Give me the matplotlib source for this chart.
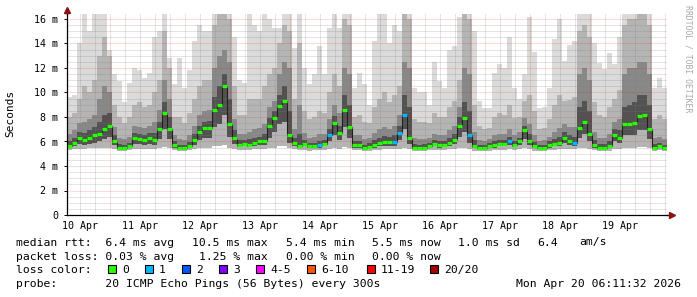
import matplotlib
matplotlib.use('Agg')
import matplotlib.pyplot as plt
import numpy as np

plt.rcParams['font.family'] = 'DejaVu Sans Mono'

' ____________ data: 2 hour bins, time in hours since 10 Apr 00:00 __________ '

t_start = 6.8
bin_h = 2.0

# median rtt per bin (ms)
median = [5.67, 5.9, 6.3, 6.1, 6.3, 6.5, 6.6, 7.0, 7.3, 6.0,
          5.5, 5.5, 5.6, 6.3, 6.2, 6.15, 6.25, 6.1, 7.0, 8.3,
          7.0, 5.7, 5.45, 5.45, 5.65, 6.1, 6.8, 7.1, 7.1, 8.6,
          9.0, 10.5, 7.4, 6.3, 5.75, 5.8, 5.75, 5.9, 6.0, 6.0,
          7.3, 7.9, 8.9, 9.3, 6.5, 5.9, 5.65, 5.8, 5.6, 5.65,
          5.7, 5.8, 6.5, 7.5, 6.7, 8.6, 7.2, 5.7, 5.7, 5.45,
          5.55, 5.7, 5.85, 5.95, 5.95, 5.95, 6.7, 8.2, 6.3, 5.5,
          5.45, 5.5, 5.65, 5.8, 5.7, 5.75, 5.9, 6.1, 7.3, 7.9,
          6.5, 5.65, 5.45, 5.45, 5.6, 5.7, 5.8, 5.8, 6.0, 5.75,
          6.0, 6.9, 6.0, 5.6, 5.45, 5.5, 5.7, 5.8, 5.9, 6.3,
          6.0, 5.9, 7.1, 7.6, 6.6, 5.7, 5.45, 5.45, 5.6, 6.5,
          6.3, 7.4, 7.4, 7.5, 8.1, 8.15, 7.0, 5.5, 5.6, 5.45]

# smoke: fastest ping, quantiles of the 20 pings and slowest ping (ms)
smoke_lo = [5.3, 5.35, 5.4, 5.4, 5.45, 5.45, 5.5, 5.5, 5.5, 5.35,
            5.25, 5.25, 5.3, 5.4, 5.4, 5.4, 5.4, 5.35, 5.45, 5.55,
            5.45, 5.3, 5.2, 5.2, 5.3, 5.35, 5.45, 5.5, 5.5, 5.6,
            5.6, 5.7, 5.5, 5.4, 5.3, 5.3, 5.3, 5.35, 5.35, 5.35,
            5.45, 5.5, 5.6, 5.6, 5.45, 5.35, 5.3, 5.3, 5.25, 5.3,
            5.3, 5.3, 5.4, 5.5, 5.4, 5.55, 5.45, 5.3, 5.3, 5.2,
            5.25, 5.3, 5.3, 5.35, 5.35, 5.35, 5.4, 5.5, 5.35, 5.25,
            5.2, 5.25, 5.3, 5.3, 5.3, 5.3, 5.35, 5.35, 5.45, 5.5,
            5.4, 5.25, 5.2, 5.2, 5.25, 5.3, 5.3, 5.3, 5.35, 5.3,
            5.35, 5.45, 5.35, 5.25, 5.2, 5.25, 5.3, 5.3, 5.35, 5.4,
            5.35, 5.35, 5.45, 5.5, 5.4, 5.3, 5.2, 5.2, 5.25, 5.4,
            5.4, 5.5, 5.5, 5.5, 5.55, 5.55, 5.45, 5.25, 5.3, 5.2]

smoke_q25 = [5.5, 5.6, 5.8, 5.7, 5.8, 5.9, 6.0, 6.2, 6.4, 5.7,
             5.4, 5.4, 5.45, 5.8, 5.8, 5.75, 5.8, 5.7, 6.2, 7.0,
             6.2, 5.5, 5.35, 5.35, 5.5, 5.7, 6.1, 6.3, 6.3, 7.2,
             7.4, 8.2, 6.4, 5.8, 5.55, 5.6, 5.55, 5.65, 5.7, 5.7,
             6.3, 6.8, 7.4, 7.6, 5.9, 5.65, 5.5, 5.6, 5.45, 5.5,
             5.5, 5.6, 6.0, 6.5, 6.1, 7.2, 6.3, 5.5, 5.5, 5.35,
             5.4, 5.5, 5.6, 5.65, 5.65, 5.65, 6.1, 7.0, 5.8, 5.4,
             5.35, 5.4, 5.5, 5.6, 5.5, 5.55, 5.65, 5.8, 6.4, 6.8,
             5.9, 5.5, 5.35, 5.35, 5.45, 5.5, 5.6, 5.6, 5.7, 5.55,
             5.7, 6.2, 5.7, 5.45, 5.35, 5.4, 5.5, 5.6, 5.65, 5.9,
             5.7, 5.6, 6.3, 6.6, 6.0, 5.5, 5.35, 5.35, 5.45, 6.0,
             5.9, 6.5, 6.5, 6.5, 6.9, 6.9, 6.2, 5.4, 5.45, 5.35]

smoke_q55 = [6.0, 6.25, 6.8, 6.7, 6.9, 7.2, 7.6, 8.2, 8.3, 6.5,
             5.8, 5.75, 5.9, 6.7, 6.6, 6.55, 6.7, 6.7, 7.6, 9.2,
             8.0, 6.0, 5.75, 5.7, 5.95, 6.6, 7.3, 7.6, 7.7, 9.6,
             10.5, 11.5, 9.5, 6.9, 6.1, 6.1, 6.2, 6.3, 6.4, 6.6,
             7.9, 8.5, 9.8, 10.5, 8.5, 6.3, 6.6, 6.1, 5.85, 5.9,
             6.0, 6.1, 7.0, 8.1, 7.3, 9.8, 9.0, 6.0, 6.0, 5.75,
             5.85, 6.1, 6.3, 6.45, 6.4, 6.5, 7.3, 9.8, 8.8, 5.8,
             5.75, 5.8, 5.9, 6.1, 6.0, 6.05, 6.3, 6.6, 8.0, 9.2,
             8.5, 6.1, 5.75, 5.7, 5.85, 6.0, 6.1, 6.1, 6.4, 6.0,
             6.3, 7.3, 6.6, 5.95, 5.7, 5.75, 6.0, 6.2, 6.4, 6.8,
             6.5, 6.4, 8.8, 9.3, 8.5, 6.1, 5.8, 5.8, 6.0, 7.0,
             6.9, 8.8, 9.0, 9.2, 9.8, 9.8, 9.0, 5.8, 5.9, 5.75]

smoke_q65 = [6.6, 6.9, 7.5, 7.6, 7.8, 8.2, 9.5, 10.5, 10.0, 7.2,
             6.3, 6.2, 6.4, 7.3, 7.2, 7.1, 7.3, 7.6, 8.6, 11.0,
             9.5, 6.5, 6.2, 6.1, 6.5, 7.3, 8.2, 8.5, 8.6, 12.0,
             13.0, 13.5, 12.5, 7.8, 6.6, 6.6, 6.8, 7.0, 7.1, 7.4,
             8.8, 9.3, 11.5, 12.5, 12.0, 7.0, 9.0, 6.7, 6.3, 6.4,
             6.6, 6.6, 7.8, 9.0, 8.3, 12.0, 11.5, 6.5, 6.5, 6.2,
             6.3, 6.7, 7.0, 7.2, 7.0, 7.3, 8.2, 12.5, 12.0, 6.3,
             6.2, 6.2, 6.3, 6.6, 6.5, 6.5, 6.9, 7.3, 8.8, 12.0,
             11.5, 6.8, 6.1, 6.0, 6.2, 6.5, 6.6, 6.6, 7.0, 6.5,
             6.8, 7.9, 7.4, 6.5, 6.0, 6.1, 6.4, 6.8, 7.1, 7.4,
             7.2, 7.2, 11.5, 12.0, 11.0, 6.8, 6.3, 6.3, 6.6, 7.6,
             7.8, 11.5, 12.0, 12.0, 12.5, 12.5, 11.5, 6.3, 6.4, 6.2]

smoke_q85 = [8.0, 8.3, 9.5, 10.5, 10.0, 11.0, 13.0, 14.5, 13.0, 9.0,
             8.0, 7.5, 8.0, 9.0, 9.2, 8.8, 9.0, 10.0, 11.0, 15.0,
             12.0, 8.0, 8.0, 7.5, 8.3, 9.5, 10.5, 11.0, 11.0, 15.5,
             16.4, 16.4, 16.0, 10.5, 8.2, 8.2, 9.5, 9.5, 9.5, 10.5,
             11.5, 12.0, 14.0, 15.5, 15.0, 9.5, 14.0, 8.5, 7.8, 8.0,
             8.5, 8.3, 10.0, 11.5, 10.5, 16.0, 15.5, 8.0, 8.2, 7.6,
             7.5, 8.8, 9.5, 10.0, 9.2, 9.8, 10.5, 16.4, 16.0, 7.8,
             7.6, 7.6, 7.5, 8.3, 8.0, 8.0, 8.8, 9.3, 11.0, 16.4,
             16.0, 9.0, 7.3, 7.0, 7.1, 8.0, 8.3, 8.2, 9.0, 7.9,
             8.0, 9.3, 9.8, 8.5, 7.0, 7.1, 7.8, 9.0, 9.8, 9.3,
             9.4, 9.6, 15.0, 15.5, 14.5, 9.2, 8.2, 8.0, 8.8, 9.5,
             10.2, 15.5, 16.0, 16.0, 16.4, 16.4, 15.5, 7.8, 8.2, 7.8]

smoke_max = [9.6, 9.8, 14.0, 16.4, 15.0, 16.4, 16.4, 16.4, 13.5, 11.5,
             10.9, 9.2, 10.8, 12.0, 11.8, 11.2, 11.6, 14.5, 15.0, 16.4,
             12.8, 10.7, 12.8, 10.4, 11.8, 14.2, 15.5, 15.0, 15.0, 16.4,
             16.4, 16.4, 16.4, 14.5, 11.0, 10.8, 16.4, 15.5, 15.0, 16.4,
             16.0, 15.3, 15.3, 16.4, 16.4, 13.6, 16.4, 12.0, 10.7, 11.5,
             13.8, 11.5, 15.3, 16.4, 15.3, 16.4, 16.4, 10.4, 11.6, 10.7,
             9.0, 14.2, 16.4, 16.4, 14.0, 15.5, 15.0, 16.4, 16.4, 10.4,
             10.0, 10.0, 9.0, 12.5, 10.9, 10.4, 13.5, 13.8, 16.2, 16.4,
             16.4, 15.0, 9.3, 8.7, 8.7, 11.6, 12.3, 12.0, 14.5, 10.4,
             9.5, 11.5, 16.2, 13.3, 8.7, 8.8, 10.4, 14.4, 16.0, 12.6,
             13.9, 14.2, 16.4, 16.4, 16.4, 14.0, 12.4, 11.9, 13.2, 12.3,
             14.5, 16.4, 16.4, 16.4, 16.4, 16.4, 16.4, 10.4, 11.2, 10.4]

# lost pings (of 20) per bin
loss = [0] * 120
for i in [50, 52, 65, 66, 67, 80, 88, 101]:
    loss[i] = 1

loss_labels = ['0', '1', '2', '3', '4-5', '6-10', '11-19', '20/20']
loss_colors = ['#26ff00', '#00b8ff', '#0059ff', '#7e00ff',
               '#ff00ff', '#ff5500', '#ff0000', '#a10000']
loss_bounds = [0, 1, 2, 3, 5, 10, 19, 20]

day_labels = ['10 Apr', '11 Apr', '12 Apr', '13 Apr', '14 Apr',
              '15 Apr', '16 Apr', '17 Apr', '18 Apr', '19 Apr']
y_ticks = [0, 2, 4, 6, 8, 10, 12, 14, 16]
y_ticklabels = ['0', '2 m', '4 m', '6 m', '8 m', '10 m', '12 m', '14 m', '16 m']


def loss_color(n):
    for b, c in zip(loss_bounds, loss_colors):
        if n <= b:
            return c
    return loss_colors[-1]


' ____________ figure _______________________________________________________ '

W, H = 697, 297
fig = plt.figure(figsize=(W / 100, H / 100), dpi=100)
fig.patch.set_facecolor('white')

ax_l, ax_r, ax_b, ax_t = 67, 667, 215, 14.1
ax = fig.add_axes([ax_l / W, 1 - ax_b / H, (ax_r - ax_l) / W, (ax_b - ax_t) / H])

t_end = t_start + bin_h * len(median)
edges = t_start + bin_h * np.arange(len(median) + 1)

ax.set_xlim(t_start, t_end)
ax.set_ylim(0, 16.4)

# smoke, lightest outside, darkest round the median
ax.stairs(smoke_max, edges, baseline=smoke_lo, fill=True, color='#dadada', lw=0, zorder=1)
ax.stairs(smoke_q85, edges, baseline=smoke_lo, fill=True, color='#b4b4b4', lw=0, zorder=1.1)
ax.stairs(smoke_q65, edges, baseline=smoke_q25, fill=True, color='#888888', lw=0, zorder=1.2)
ax.stairs(smoke_q55, edges, baseline=smoke_q25, fill=True, color='#525252', lw=0, zorder=1.3)

# grid, drawn above the smoke like rrdtool
dots = (0, (1, 1))
for v in np.arange(0.5, 16.4, 0.5):
    if v % 2 == 0:
        ax.axhline(v, color='#ff0000', alpha=0.27, lw=0.72, ls=dots, zorder=2)
    else:
        ax.axhline(v, color='#808080', alpha=0.42, lw=0.72, ls=dots, zorder=2)
for h in np.arange(6, t_end, 6):
    if h <= t_start:
        continue
    if h % 24 == 0:
        ax.axvline(h, color='#ff0000', alpha=0.27, lw=0.72, ls=dots, zorder=2)
    else:
        ax.axvline(h, color='#808080', alpha=0.42, lw=0.72, ls=dots, zorder=2)

# median line + loss coloured steps
ax.stairs(median, edges, baseline=None, color='#202020', lw=0.8, zorder=3)
ax.hlines(median, edges[:-1], edges[1:], colors=[loss_color(n) for n in loss],
          lw=2.3, zorder=4, capstyle='butt')

# axes look
for s in ['top', 'right']:
    ax.spines[s].set_visible(False)
for s in ['left', 'bottom']:
    ax.spines[s].set_color('black')
    ax.spines[s].set_linewidth(0.9)
    ax.spines[s].set_zorder(5)

ax.set_yticks(y_ticks)
ax.set_yticklabels(y_ticklabels)
ax.set_xticks([12 + 24 * k for k in range(len(day_labels))])
ax.set_xticklabels(day_labels)
ax.tick_params(axis='y', length=2.5, width=0.7, pad=4, labelsize=7.2, direction='out')
ax.tick_params(axis='x', length=0, pad=4, labelsize=7.2)

# axis arrows
ax.plot([1, 1.009], [0, 0], color='black', lw=0.9, transform=ax.transAxes, clip_on=False, zorder=5)
ax.plot([1.009], [0], marker='>', ms=4, color='#8b1010', transform=ax.transAxes, clip_on=False, zorder=6)
ax.plot([0, 0], [1, 1.015], color='black', lw=0.9, transform=ax.transAxes, clip_on=False, zorder=5)
ax.plot([0], [1.02], marker='^', ms=4, color='#8b1010', transform=ax.transAxes, clip_on=False, zorder=6)

fig.text(10.5 / W, 1 - 113 / H, 'Seconds', rotation=90, ha='center', va='center', fontsize=8)
fig.text(688 / W, 1 - 5 / H, 'RRDTOOL / TOBI OETIKER', rotation=270, ha='center', va='top',
         fontsize=5.9, color='#a8a8a8')

' ____________ legend text __________________________________________________ '

fs = 8.2


def px_text(x, y, s, **kw):
    fig.text(x / W, 1 - y / H, s, fontsize=fs, va='baseline', **kw)


row1 = [('median rtt:  6.4 ms avg', 15.5), ('10.5 ms max', 192.5), ('5.4 ms min', 285.5),
        ('5.5 ms now', 371.5), ('1.0 ms sd', 457.5), ('6.4', 537.5), ('am/s', 579.5)]
row2 = [('packet loss: 0.03 % avg', 15.5), ('1.25 % max', 199), ('0.00 % min', 285.5),
        ('0.00 % now', 371.5)]
for s, x in row1:
    px_text(x, 245.5, s)
for s, x in row2:
    px_text(x, 259.5, s)

px_text(15.5, 273, 'loss color:')
box_x = [108.3, 145, 181.7, 219, 256, 307.3, 366.7, 430]
for bx, lab, col in zip(box_x, loss_labels, loss_colors):
    fig.patches.append(plt.Rectangle((bx / W, 1 - 273 / H), 8 / W, 8 / H, transform=fig.transFigure,
                                     facecolor=col, edgecolor='black', lw=0.8))
    px_text(bx + 14, 273, lab)

px_text(15.5, 287.3, 'probe:       20 ICMP Echo Pings (56 Bytes) every 300s')
px_text(680.5, 287.3, 'Mon Apr 20 06:11:32 2026', ha='right')

fig.savefig('out.png', dpi=100)
